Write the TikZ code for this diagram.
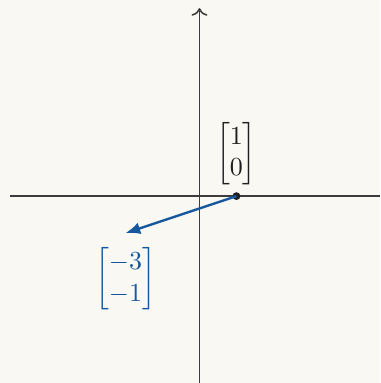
\documentclass[tikz,border=0pt]{standalone}
\usepackage{amsmath}
\usetikzlibrary{arrows.meta, positioning}
\definecolor{paper}{RGB}{249,248,243}
\definecolor{axisgray}{RGB}{60,60,60}
\definecolor{inkdark}{RGB}{30,30,30}
\definecolor{vecblue}{RGB}{22,88,160}
\tikzset{
    axisline/.style={draw=axisgray, line width=0.6pt},
    vecarrow/.style={-{Latex[length=2mm, width=1.6mm]}, vecblue, line width=0.9pt},
    dotmark/.style={circle, fill=inkdark, inner sep=0pt, minimum size=3pt},
    veclabel/.style={text=#1, inner sep=2.5pt}
}

\begin{document}
\begin{tikzpicture}[x=0.5cm, y=0.5cm]

\fill[paper] (-5.39,-5.05) rectangle (4.88,5.30);
\useasboundingbox (-5.39,-5.05) rectangle (4.88,5.30);

% axes
\coordinate (xleft) at (-5.12,0);
\coordinate (xright) at (4.88,0);
\coordinate (ybottom) at (0,-5.05);
\coordinate (ytop) at (0,5.08);
\draw[axisline] (xleft) -- (xright);
\draw[axisline, ->] (ybottom) -- (ytop);

% vector and its image
\node[dotmark] (e1) at (1,0) {};
\coordinate (img) at (-2,-1);
\draw[vecarrow] (e1.center) -- (img);

\node[veclabel=inkdark, above=0pt of e1] (e1lab) {$\begin{bmatrix}1\\0\end{bmatrix}$};
\node[veclabel=vecblue, below=3pt of img] (imglab) {$\begin{bmatrix}-3\\-1\end{bmatrix}$};

\end{tikzpicture}
\end{document}
